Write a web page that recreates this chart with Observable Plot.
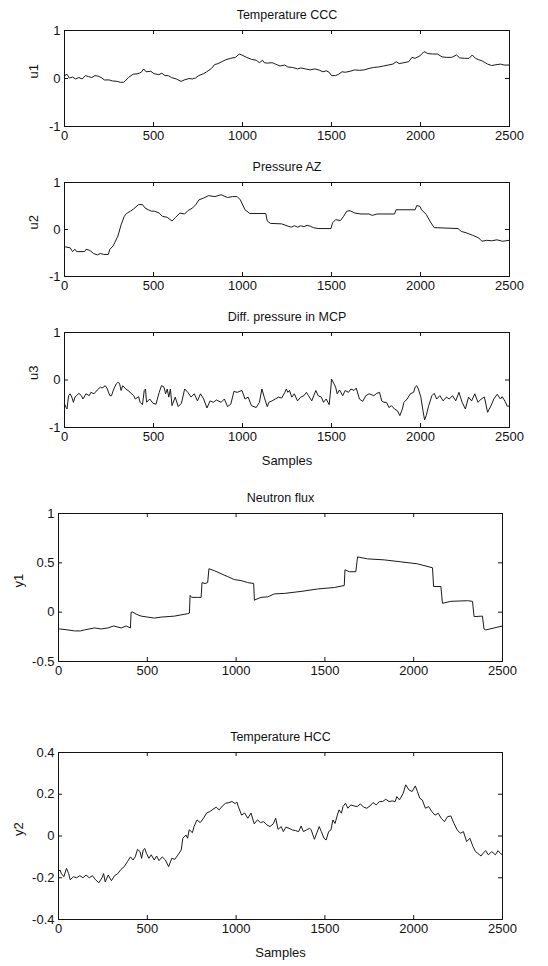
<!DOCTYPE html>
<html>
<head>
<meta charset="utf-8">
<script src="https://cdn.jsdelivr.net/npm/d3@7"></script>
<script src="https://cdn.jsdelivr.net/npm/@observablehq/plot@0.6"></script>
<style>
  html, body { margin: 0; padding: 0; background: #fff; }
  #wrap { position: relative; width: 548px; height: 966px; background: #fff; }
  #wrap > svg { position: absolute; left: 0; }
</style>
</head>
<body>
<div id="wrap"></div>
<script>
// ---- tick labels ----
const xTicks = [0, 500, 1000, 1500, 2000, 2500];
const uTicks = [-1, 0, 1];
const y1Ticks = [-0.5, 0, 0.5, 1];
const y2Ticks = [-0.4, -0.2, 0, 0.2, 0.4];

// ---- panel titles / labels ----
const titles = ["Temperature CCC", "Pressure AZ", "Diff. pressure in MCP", "Neutron flux", "Temperature HCC"];
const yLabels = ["u1", "u2", "u3", "y1", "y2"];
const xLabel = "Samples";

// ---- series: [sample, value] ----
const u1 = [[0,0.04],[4,0.07],[14,0.09],[27,0.01],[45,0.03],[63,-0.01],[81,0.02],[99,-0.01],[117,0.06],[135,0.04],[153,0.02],[171,0.06],[188,0.05],[206,0.02],[224,-0.03],[251,-0.03],[269,-0.05],[296,-0.06],[314,-0.08],[332,-0.08],[341,-0.05],[359,0.02],[386,0.09],[413,0.1],[431,0.13],[445,0.2],[458,0.14],[485,0.15],[503,0.1],[530,0.08],[547,0.11],[565,0.06],[583,0.06],[601,0.02],[628,-0.01],[655,-0.06],[673,-0.03],[700,0.0],[718,-0.01],[736,0.01],[754,0.06],[781,0.1],[799,0.14],[826,0.21],[844,0.29],[862,0.31],[889,0.36],[906,0.39],[933,0.42],[960,0.44],[982,0.51],[996,0.49],[1023,0.44],[1050,0.4],[1077,0.38],[1095,0.33],[1113,0.38],[1122,0.33],[1140,0.32],[1167,0.33],[1185,0.3],[1211,0.26],[1237,0.28],[1255,0.24],[1282,0.23],[1309,0.2],[1327,0.22],[1354,0.2],[1380,0.18],[1407,0.2],[1434,0.17],[1452,0.14],[1470,0.16],[1487,0.13],[1500,0.06],[1523,0.06],[1541,0.09],[1559,0.14],[1577,0.13],[1604,0.15],[1630,0.18],[1657,0.17],[1684,0.18],[1711,0.21],[1737,0.23],[1764,0.24],[1791,0.26],[1818,0.28],[1845,0.3],[1863,0.35],[1880,0.31],[1907,0.33],[1934,0.35],[1952,0.44],[1970,0.42],[1996,0.47],[2020,0.56],[2041,0.52],[2068,0.51],[2095,0.51],[2121,0.45],[2148,0.44],[2175,0.44],[2202,0.49],[2220,0.43],[2247,0.42],[2273,0.42],[2291,0.49],[2309,0.42],[2327,0.39],[2345,0.37],[2363,0.33],[2377,0.3],[2400,0.27],[2430,0.29],[2450,0.3],[2470,0.28],[2500,0.28]];

const u2 = [[0,-0.37],[5,-0.37],[32,-0.39],[45,-0.47],[59,-0.42],[68,-0.47],[113,-0.47],[121,-0.42],[139,-0.44],[148,-0.46],[163,-0.51],[184,-0.54],[202,-0.51],[220,-0.53],[246,-0.53],[255,-0.42],[273,-0.35],[282,-0.28],[300,-0.14],[318,0.1],[336,0.28],[348,0.34],[371,0.39],[389,0.44],[416,0.53],[438,0.53],[452,0.46],[470,0.42],[488,0.39],[505,0.39],[532,0.35],[550,0.28],[577,0.26],[604,0.18],[622,0.25],[648,0.35],[675,0.33],[693,0.4],[720,0.46],[738,0.53],[755,0.63],[782,0.67],[809,0.72],[845,0.7],[880,0.74],[916,0.68],[943,0.7],[970,0.7],[988,0.63],[1014,0.42],[1041,0.34],[1131,0.34],[1139,0.18],[1157,0.13],[1220,0.12],[1256,0.07],[1275,0.05],[1291,0.08],[1310,0.05],[1327,0.08],[1345,0.06],[1363,0.09],[1381,0.07],[1398,0.04],[1425,0.02],[1497,0.02],[1506,0.14],[1523,0.21],[1550,0.19],[1568,0.28],[1586,0.39],[1604,0.4],[1631,0.35],[1666,0.33],[1711,0.33],[1729,0.3],[1756,0.33],[1854,0.33],[1863,0.42],[1970,0.42],[1979,0.51],[1997,0.49],[2006,0.42],[2032,0.32],[2059,0.14],[2077,0.04],[2211,0.02],[2229,-0.04],[2256,-0.07],[2291,-0.12],[2327,-0.18],[2345,-0.25],[2372,-0.23],[2400,-0.24],[2430,-0.22],[2460,-0.25],[2500,-0.23]];

const u3 = [[0,-0.5],[9,-0.58],[14,-0.61],[23,-0.33],[32,-0.29],[41,-0.36],[50,-0.47],[59,-0.36],[68,-0.33],[80,-0.28],[95,-0.33],[104,-0.4],[121,-0.29],[139,-0.33],[148,-0.26],[166,-0.29],[184,-0.21],[202,-0.15],[211,-0.17],[229,-0.12],[238,-0.17],[255,-0.33],[264,-0.33],[277,-0.19],[291,-0.08],[300,-0.05],[309,-0.07],[318,-0.22],[327,-0.12],[345,-0.19],[363,-0.24],[389,-0.33],[398,-0.4],[416,-0.35],[425,-0.47],[438,-0.52],[448,-0.22],[455,-0.19],[461,-0.47],[479,-0.4],[497,-0.49],[514,-0.51],[532,-0.26],[545,-0.12],[559,-0.15],[568,-0.29],[577,-0.19],[586,-0.36],[595,-0.19],[604,-0.54],[622,-0.36],[639,-0.56],[657,-0.49],[675,-0.19],[693,-0.26],[711,-0.36],[729,-0.29],[747,-0.44],[764,-0.29],[782,-0.4],[800,-0.59],[818,-0.44],[836,-0.47],[854,-0.42],[880,-0.47],[898,-0.4],[916,-0.56],[934,-0.51],[952,-0.24],[970,-0.26],[997,-0.22],[1014,-0.4],[1032,-0.36],[1050,-0.54],[1077,-0.58],[1095,-0.47],[1109,-0.19],[1122,-0.36],[1139,-0.56],[1148,-0.47],[1166,-0.44],[1184,-0.4],[1202,-0.36],[1220,-0.38],[1238,-0.26],[1246,-0.19],[1255,-0.26],[1264,-0.22],[1277,-0.36],[1291,-0.29],[1309,-0.44],[1327,-0.36],[1345,-0.33],[1359,-0.26],[1371,-0.33],[1389,-0.44],[1412,-0.22],[1425,-0.33],[1443,-0.36],[1455,-0.47],[1470,-0.4],[1487,-0.52],[1496,-0.19],[1500,0.02],[1514,-0.08],[1523,-0.15],[1532,-0.29],[1545,-0.21],[1563,-0.33],[1577,-0.22],[1595,-0.26],[1609,-0.19],[1627,-0.22],[1639,-0.17],[1657,-0.4],[1675,-0.45],[1693,-0.33],[1711,-0.29],[1738,-0.33],[1755,-0.28],[1770,-0.26],[1782,-0.44],[1795,-0.47],[1809,-0.47],[1823,-0.58],[1836,-0.54],[1854,-0.61],[1871,-0.65],[1884,-0.75],[1898,-0.61],[1907,-0.47],[1925,-0.4],[1943,-0.29],[1961,-0.26],[1970,-0.15],[1979,-0.12],[1988,-0.19],[2002,-0.36],[2014,-0.65],[2023,-0.84],[2032,-0.75],[2046,-0.54],[2064,-0.33],[2077,-0.28],[2091,-0.4],[2109,-0.33],[2127,-0.44],[2145,-0.36],[2162,-0.4],[2180,-0.33],[2198,-0.44],[2216,-0.26],[2234,-0.47],[2252,-0.61],[2270,-0.36],[2287,-0.44],[2305,-0.29],[2323,-0.47],[2341,-0.4],[2359,-0.36],[2377,-0.68],[2395,-0.55],[2412,-0.4],[2431,-0.3],[2449,-0.4],[2459,-0.35],[2475,-0.45],[2487,-0.55],[2500,-0.55]];

const y1 = [[0,-0.17],[6,-0.17],[53,-0.18],[90,-0.19],[124,-0.19],[146,-0.18],[203,-0.16],[240,-0.17],[278,-0.16],[311,-0.14],[353,-0.16],[381,-0.14],[405,-0.16],[409,0.0],[418,0.0],[437,-0.02],[465,-0.04],[503,-0.05],[540,-0.06],[578,-0.05],[653,-0.04],[728,-0.015],[737,-0.01],[741,0.17],[750,0.15],[784,0.15],[803,0.15],[808,0.3],[825,0.29],[840,0.3],[847,0.44],[878,0.42],[915,0.39],[953,0.36],[990,0.33],[1028,0.32],[1065,0.3],[1099,0.29],[1103,0.12],[1106,0.125],[1140,0.15],[1178,0.155],[1215,0.185],[1271,0.19],[1365,0.21],[1459,0.235],[1553,0.25],[1609,0.27],[1613,0.43],[1637,0.41],[1674,0.41],[1684,0.56],[1740,0.54],[1834,0.53],[1928,0.51],[2021,0.49],[2106,0.45],[2112,0.26],[2153,0.26],[2162,0.09],[2209,0.11],[2303,0.116],[2331,0.11],[2340,-0.045],[2387,-0.04],[2396,-0.17],[2406,-0.18],[2453,-0.16],[2500,-0.14]];

const y2 = [[0,-0.17],[9,-0.163],[16,-0.18],[30,-0.195],[45,-0.155],[57,-0.18],[66,-0.21],[84,-0.195],[102,-0.2],[120,-0.19],[138,-0.2],[155,-0.187],[173,-0.2],[191,-0.19],[209,-0.21],[227,-0.224],[245,-0.2],[254,-0.18],[263,-0.22],[280,-0.187],[298,-0.214],[316,-0.19],[334,-0.18],[352,-0.16],[370,-0.147],[388,-0.123],[405,-0.1],[420,-0.115],[432,-0.1],[445,-0.064],[459,-0.075],[468,-0.107],[477,-0.067],[486,-0.06],[495,-0.083],[509,-0.107],[522,-0.09],[539,-0.115],[552,-0.096],[566,-0.118],[584,-0.1],[602,-0.115],[620,-0.147],[638,-0.107],[655,-0.112],[673,-0.09],[691,-0.067],[700,-0.011],[718,0.005],[727,-0.011],[736,0.03],[754,0.016],[763,0.045],[780,0.077],[798,0.064],[816,0.085],[834,0.11],[852,0.117],[870,0.128],[888,0.138],[905,0.125],[923,0.144],[941,0.157],[959,0.16],[977,0.165],[995,0.155],[1004,0.163],[1013,0.14],[1031,0.1],[1048,0.11],[1066,0.085],[1084,0.11],[1102,0.058],[1120,0.077],[1138,0.064],[1155,0.069],[1173,0.053],[1191,0.045],[1209,0.058],[1223,0.085],[1236,0.032],[1254,0.045],[1266,0.021],[1280,0.042],[1298,0.037],[1316,0.029],[1334,0.026],[1352,0.021],[1366,0.048],[1379,0.021],[1396,0.029],[1414,0.037],[1423,0.029],[1441,-0.016],[1455,0.016],[1468,0.045],[1480,0.021],[1495,-0.011],[1507,-0.019],[1521,0.021],[1534,0.029],[1545,0.077],[1557,0.06],[1570,0.1],[1580,0.125],[1593,0.109],[1602,0.141],[1616,0.157],[1629,0.133],[1646,0.149],[1664,0.144],[1682,0.141],[1700,0.154],[1718,0.138],[1736,0.133],[1754,0.144],[1771,0.16],[1789,0.149],[1807,0.165],[1825,0.165],[1843,0.176],[1861,0.165],[1879,0.168],[1896,0.165],[1905,0.189],[1920,0.173],[1941,0.205],[1955,0.245],[1973,0.221],[1991,0.213],[2009,0.24],[2021,0.213],[2034,0.181],[2048,0.173],[2066,0.133],[2084,0.141],[2102,0.117],[2120,0.1],[2138,0.109],[2155,0.085],[2173,0.069],[2191,0.093],[2209,0.096],[2227,0.06],[2245,0.029],[2263,0.013],[2280,0.021],[2298,-0.027],[2316,-0.011],[2334,-0.051],[2348,-0.075],[2361,-0.083],[2379,-0.096],[2388,-0.086],[2405,-0.07],[2420,-0.09],[2440,-0.075],[2460,-0.09],[2475,-0.07],[2490,-0.085],[2500,-0.09]];

const FONT = "'Liberation Sans', Arial, Helvetica, sans-serif";
const INK = "#111";

function panel({data, title, ylabel, yDomain, yTicks, top, height, mt, mb, ml, mr, ylabDx, samples}) {
  const W = 548;
  const iw = W - ml - mr, ih = height - mt - mb;
  const fmt = d => String(d);
  const marks = [
    Plot.line(data, {x: d => d[0], y: d => d[1], stroke: "#1a1a1a", strokeWidth: 1}),
    Plot.frame({stroke: INK, strokeWidth: 1}),
    Plot.tickX(xTicks, {x: d => d, insetTop: ih - 4, stroke: INK}),
    Plot.tickX(xTicks, {x: d => d, insetBottom: ih - 4, stroke: INK}),
    Plot.tickY(yTicks, {y: d => d, insetRight: iw - 4, stroke: INK}),
    Plot.tickY(yTicks, {y: d => d, insetLeft: iw - 4, stroke: INK}),
    Plot.axisX({ticks: xTicks, tickSize: 0, tickPadding: 4, tickFormat: fmt, label: null, fill: INK}),
    Plot.axisY({ticks: yTicks, tickSize: 0, tickPadding: 4, tickFormat: fmt, label: null, fill: INK}),
    Plot.text([title], {frameAnchor: "top", dy: -20, text: d => d, fill: INK, fontSize: 12.5}),
    Plot.text([ylabel], {frameAnchor: "left", dx: ylabDx, rotate: -90, text: d => d, fill: INK})
  ];
  if (samples) marks.push(Plot.text([xLabel], {frameAnchor: "bottom", dy: 37, text: d => d, fill: INK}));
  const svg = Plot.plot({
    width: W, height,
    marginTop: mt, marginBottom: mb, marginLeft: ml, marginRight: mr,
    x: {domain: [0, 2500]},
    y: {domain: yDomain},
    style: {fontFamily: FONT, fontSize: "13px", background: "transparent", color: INK},
    marks
  });
  svg.style.top = top + "px";
  document.getElementById("wrap").appendChild(svg);
}

panel({data: u1, title: titles[0], ylabel: yLabels[0], yDomain: [-1, 1], yTicks: uTicks,
  top: 0, height: 150, mt: 30, mb: 24, ml: 64, mr: 39, ylabDx: -31});
panel({data: u2, title: titles[1], ylabel: yLabels[1], yDomain: [-1, 1], yTicks: uTicks,
  top: 150, height: 150, mt: 32, mb: 24, ml: 64, mr: 39, ylabDx: -31});
panel({data: u3, title: titles[2], ylabel: yLabels[2], yDomain: [-1, 1], yTicks: uTicks,
  top: 300, height: 180, mt: 32, mb: 53, ml: 64, mr: 39, ylabDx: -31, samples: true});
panel({data: y1, title: titles[3], ylabel: yLabels[3], yDomain: [-0.5, 1], yTicks: y1Ticks,
  top: 480, height: 220, mt: 33, mb: 39, ml: 58, mr: 46, ylabDx: -40});
panel({data: y2, title: titles[4], ylabel: yLabels[4], yDomain: [-0.4, 0.4], yTicks: y2Ticks,
  top: 700, height: 266, mt: 52, mb: 47, ml: 58, mr: 46, ylabDx: -40, samples: true});
</script>
</body>
</html>
